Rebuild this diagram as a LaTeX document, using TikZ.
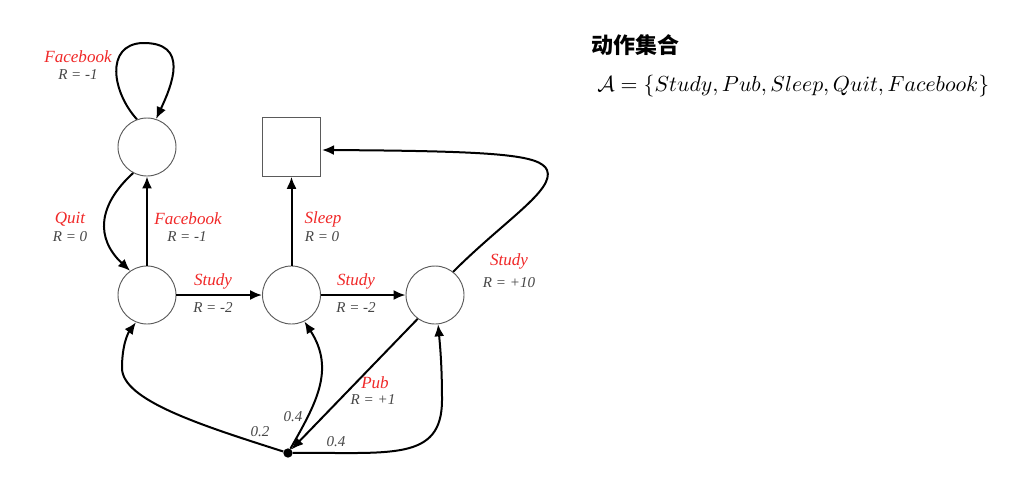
\documentclass[tikz,border=0pt]{standalone}
\usepackage{fontspec}
\usepackage{graphicx}
\usetikzlibrary{arrows.meta}
\newfontfamily\lserif{Liberation Serif}
\newfontfamily\cjk{Noto Sans CJK SC}
\definecolor{lblred}{RGB}{240,40,40}
\definecolor{lblgray}{RGB}{70,70,70}
\definecolor{outl}{RGB}{90,90,90}
\begin{document}
\begin{tikzpicture}[x=0.75pt,y=-0.75pt,
  state/.style={circle,draw=outl,line width=0.7pt,minimum size=43.5pt,inner sep=0pt},
  term/.style={rectangle,draw=outl,line width=0.7pt,minimum size=44pt,inner sep=0pt},
  act/.style={text=lblred,font=\lserif\itshape\fontsize{12.8}{14}\selectfont,inner sep=0pt},
  rew/.style={text=lblgray,font=\lserif\itshape\fontsize{11.3}{13}\selectfont,inner sep=0pt},
  prob/.style={text=lblgray,font=\lserif\itshape\fontsize{11.3}{13}\selectfont,inner sep=0pt},
  arr/.style={line width=1.5pt,-{Latex[length=9pt,width=7.5pt]}}]
\useasboundingbox (0,0) rectangle (1016,479);
\node[state] (fb) at (147,147) {};
\node[state] (c1) at (147,295) {};
\node[state] (c2) at (291.5,295) {};
\node[state] (c3) at (435,295) {};
\node[term] (sq) at (291.5,147) {};
\node[circle,fill=black,inner sep=0pt,minimum size=7pt] (dot) at (288,453) {};
% self loop
\draw[arr] (fb.110) .. controls (112,92) and (105,45) .. (142,43) .. controls (190,42) and (172,85) .. (fb.72);
% quit
\draw[arr] (fb.-118) .. controls (98,205) and (95,238) .. (c1.125);
% facebook
\draw[arr] (c1.north) -- (fb.south);
% study
\draw[arr] (c1.east) -- (c2.west);
\draw[arr] (c2.east) -- (c3.west);
% sleep
\draw[arr] (c2.north) -- (sq.south);
% study +10
\coordinate (sqin) at (322,150);
\draw[arr] (c3.52) .. controls (505,220) and (555,190) .. (547,170) .. controls (540,155) and (500,151) .. (sqin);
% pub
\draw[arr] (c3.-126) -- (dot);
% from dot
\draw[arr] (dot) .. controls (200,425) and (122,400) .. (122,368) .. controls (122,345) and (128,333) .. (c1.-112);
\draw[arr] (dot) .. controls (315,405) and (336,370) .. (c2.-64);
\draw[arr] (dot) .. controls (390,452) and (442,462) .. (442,400) .. controls (442,365) and (440,345) .. (c3.-84);
% labels
\node[act] at (78,57) {Facebook};
\node[rew] at (78,75) {R = -1};
\node[act] at (70,219) {Quit};
\node[rew] at (70,237) {R = 0};
\node[act] at (188,219) {Facebook};
\node[rew] at (187,237) {R = -1};
\node[act] at (213,281) {Study};
\node[rew] at (213,308) {R = -2};
\node[act] at (323,219) {Sleep};
\node[rew] at (322,237) {R = 0};
\node[act] at (356,281) {Study};
\node[rew] at (356,308) {R = -2};
\node[act] at (509,261) {Study};
\node[rew] at (509,283) {R = +10};
\node[act] at (375,383) {Pub};
\node[rew] at (373,400) {R = +1};
\node[prob] at (260,432) {0.2};
\node[prob] at (293,417) {0.4};
\node[prob] at (336,442) {0.4};
\node[font=\cjk\bfseries\fontsize{16.5}{18}\selectfont,inner sep=0pt] (title) at (635,45) {动作集合};
\node[anchor=west,inner sep=0pt] (aset) at (597,86) {\resizebox{294pt}{!}{$\mathcal{A}=\{Study,Pub,Sleep,Quit,Facebook\}$}};
\end{tikzpicture}
\end{document}
